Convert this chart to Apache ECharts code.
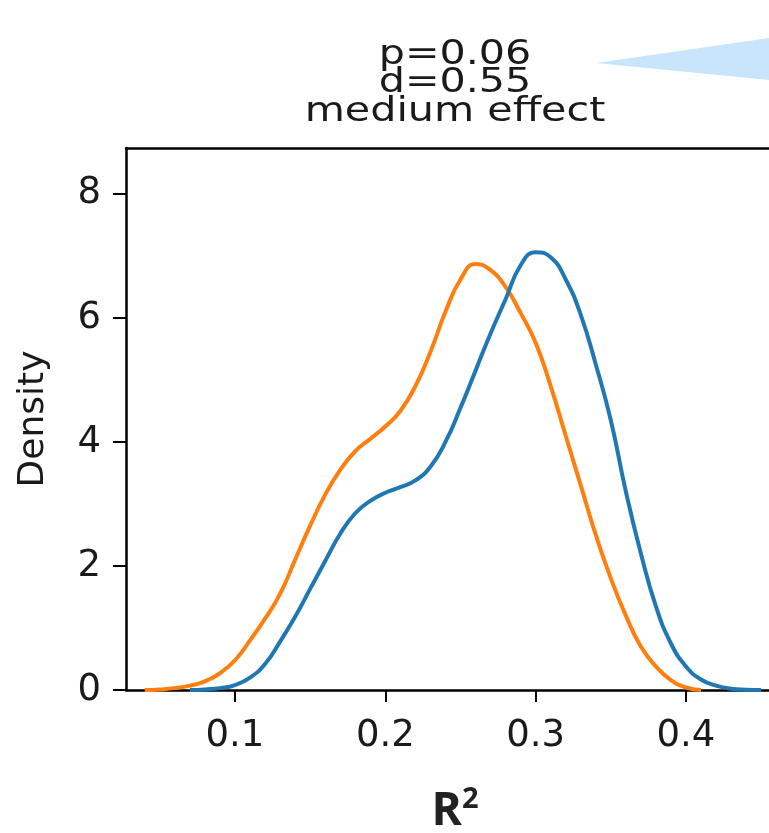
<!DOCTYPE html>
<html>
<head>
<meta charset="utf-8">
<script src="https://cdn.jsdelivr.net/npm/echarts@6/dist/echarts.min.js"></script>
<style>
  html, body { margin: 0; padding: 0; background: #fff; }
  #chart { width: 769px; height: 833px; }
</style>
</head>
<body>
<div id="chart"></div>
<script>
// R² values where each density curve is sampled
const blueR2 = [0.07, 0.08, 0.09, 0.10, 0.11, 0.12, 0.13, 0.14, 0.15, 0.16, 0.17, 0.18, 0.19, 0.20,
  0.21, 0.22, 0.23, 0.24, 0.25, 0.26, 0.27, 0.28, 0.29, 0.30, 0.31, 0.32, 0.33, 0.34, 0.35,
  0.36, 0.37, 0.38, 0.39, 0.40, 0.41, 0.42, 0.43, 0.44, 0.45];
const blueDensity = [0.0, 0.01, 0.03, 0.08, 0.2, 0.42, 0.78, 1.18, 1.63, 2.08, 2.52, 2.85, 3.05, 3.18,
  3.27, 3.38, 3.6, 4.0, 4.55, 5.15, 5.75, 6.3, 6.85, 7.06, 6.98, 6.62, 6.05, 5.25, 4.35,
  3.2, 2.2, 1.35, 0.75, 0.38, 0.17, 0.07, 0.02, 0.005, 0.0];

const orangeR2 = [0.04, 0.05, 0.06, 0.07, 0.08, 0.09, 0.10, 0.11, 0.12, 0.13, 0.14, 0.15, 0.16, 0.17,
  0.18, 0.19, 0.20, 0.21, 0.22, 0.23, 0.24, 0.25, 0.26, 0.27, 0.28, 0.29, 0.30, 0.31, 0.32,
  0.33, 0.34, 0.35, 0.36, 0.37, 0.38, 0.39, 0.40, 0.41];
const orangeDensity = [0.0, 0.01, 0.03, 0.07, 0.14, 0.27, 0.48, 0.8, 1.15, 1.55, 2.1, 2.65, 3.15, 3.55,
  3.85, 4.05, 4.25, 4.5, 4.9, 5.45, 6.1, 6.62, 6.87, 6.77, 6.5, 6.08, 5.6, 4.9, 4.1,
  3.3, 2.5, 1.8, 1.2, 0.7, 0.38, 0.16, 0.04, 0.0];

const xTicks = [0.1, 0.2, 0.3, 0.4];
const yTicks = [0, 2, 4, 6, 8];
const titleLines = ['p=0.06', 'd=0.55', 'medium effect'];

const pairs = (xs, ys) => xs.map((x, i) => [x, ys[i]]);

const FONT = 'DejaVu Sans';
const INK = '#1a1a1a';

// annotation lines above the plot, one text element per line, set a little wide
const TITLE_TOP = 55;
const TITLE_STEP = 28.5;
const titleTexts = titleLines.map((line, i) => ({
  type: 'text',
  x: 455,
  y: TITLE_TOP + i * TITLE_STEP,
  scaleX: 1.25,
  silent: true,
  style: {
    text: line,
    fontFamily: FONT,
    fontSize: 33,
    fill: INK,
    textAlign: 'center',
    textVerticalAlign: 'middle'
  }
}));

const chart = echarts.init(document.getElementById('chart'), null, { renderer: 'canvas' });

chart.setOption({
  animation: false,
  backgroundColor: '#ffffff',
  grid: { left: 126, top: 148, width: 658, height: 542, containLabel: false, outerBoundsMode: 'none' },
  xAxis: [{
    type: 'value',
    min: 0.0275,
    max: 0.4652,
    position: 'bottom',
    name: '{r|R}{s|2}',
    nameLocation: 'middle',
    nameGap: 95,
    nameTextStyle: {
      rich: {
        r: { fontFamily: 'Open Sans', fontWeight: 'bold', fontSize: 46, color: '#222' },
        s: { fontFamily: 'Open Sans', fontWeight: 'bold', fontSize: 29, color: '#222', verticalAlign: 'top', padding: [0, 0, 24, 0] }
      }
    },
    axisLine: { show: true, lineStyle: { color: '#000', width: 2.5 } },
    axisTick: { show: true, length: 12, customValues: xTicks, lineStyle: { color: '#000', width: 2 } },
    axisLabel: {
      customValues: xTicks,
      margin: 28,
      fontFamily: FONT, fontSize: 37, color: INK,
      formatter: v => v.toFixed(1)
    },
    splitLine: { show: false }
  }, {
    type: 'value',
    min: 0.0275,
    max: 0.4652,
    position: 'top',
    axisLine: { show: true, lineStyle: { color: '#000', width: 2.5 } },
    axisTick: { show: false },
    axisLabel: { show: false },
    splitLine: { show: false }
  }],
  yAxis: {
    type: 'value',
    min: 0,
    max: 8.74,
    name: 'Density',
    nameLocation: 'middle',
    nameGap: 74,
    nameTextStyle: { fontFamily: FONT, fontSize: 36, color: INK },
    axisLine: { show: true, lineStyle: { color: '#000', width: 2.5 } },
    axisTick: { show: true, length: 13, customValues: yTicks, lineStyle: { color: '#000', width: 2 } },
    axisLabel: {
      customValues: yTicks,
      margin: 25,
      fontFamily: FONT, fontSize: 37, color: INK
    },
    splitLine: { show: false }
  },
  graphic: titleTexts.concat([{
    type: 'polygon',
    shape: { points: [[596, 63], [790, 35], [790, 82]] },
    style: { fill: '#c9e5fc' },
    silent: true
  }]),
  series: [{
    name: 'orange',
    type: 'line',
    xAxisIndex: 0,
    data: pairs(orangeR2, orangeDensity),
    showSymbol: false,
    smooth: 0.5,
    lineStyle: { color: '#ff7f0e', width: 4 },
    z: 2
  }, {
    name: 'blue',
    type: 'line',
    xAxisIndex: 0,
    data: pairs(blueR2, blueDensity),
    showSymbol: false,
    smooth: 0.5,
    lineStyle: { color: '#1f77b4', width: 4 },
    z: 3
  }]
});
</script>
</body>
</html>
